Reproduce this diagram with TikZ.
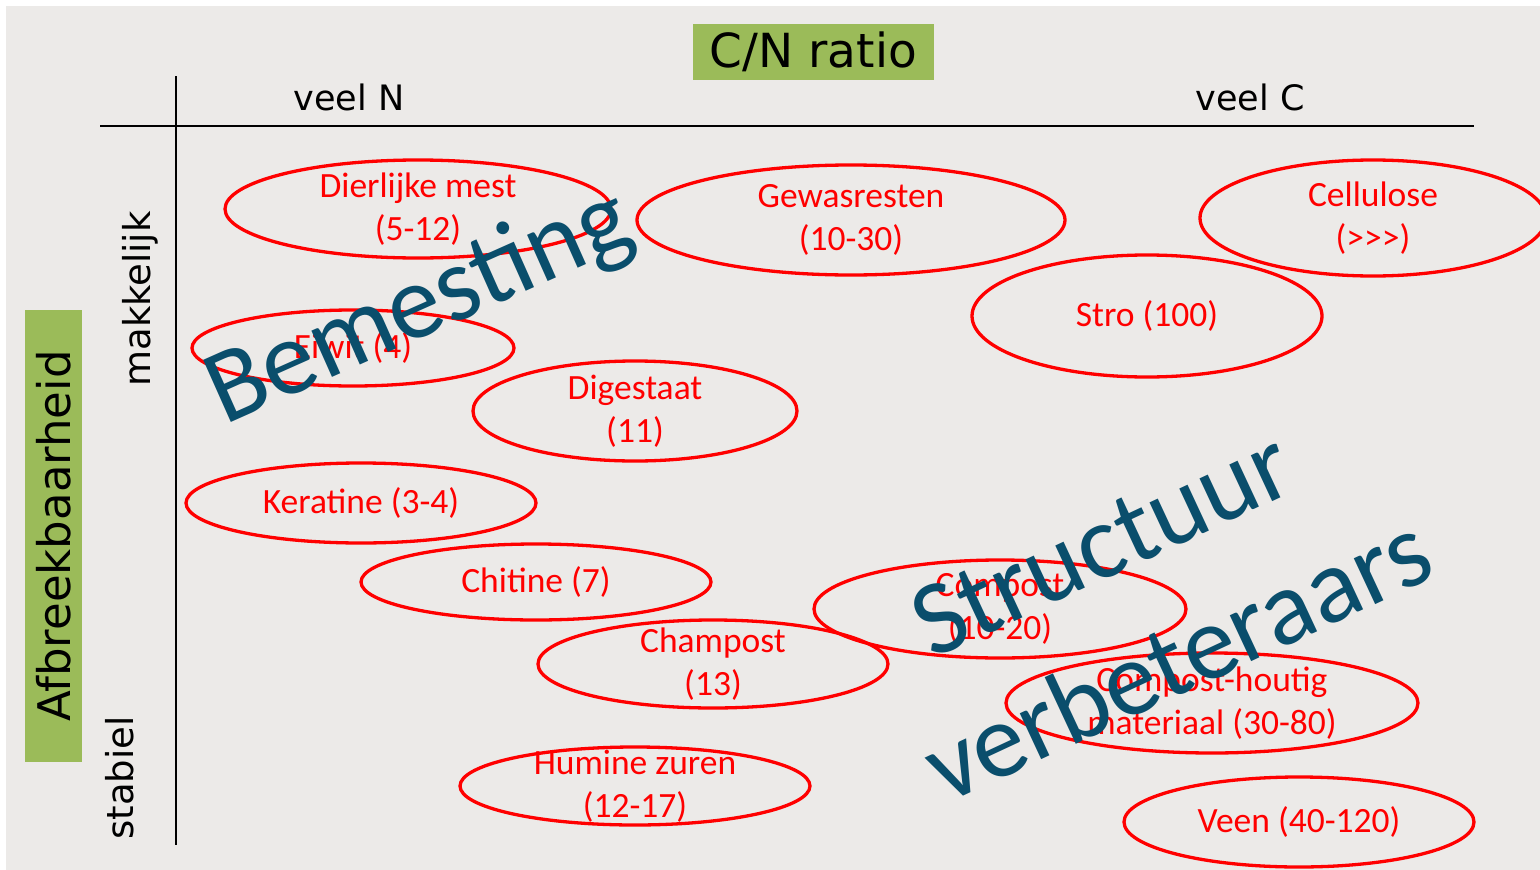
\documentclass[tikz,border=0pt]{standalone}
\usepackage{fontspec}
\setmainfont{Carlito}
\newfontfamily\verdana{DejaVu Sans}
\definecolor{achtergrond}{RGB}{236,234,232}
\definecolor{groen}{RGB}{155,187,89}
\definecolor{rood}{RGB}{255,0,0}
\definecolor{blauw}{RGB}{10,78,108}
\tikzset{
  stof/.style={text=rood, align=center, inner sep=0pt, font=\fontsize{35.5}{43.5}\selectfont},
  ring/.style={draw=rood, line width=3.3pt},
  as/.style={line width=2.8pt},
  aslabel/.style={font=\verdana\fontsize{35}{40}\selectfont},
  zijlabel/.style={rotate=90, font=\verdana\fontsize{37}{40}\selectfont},
  kader/.style={fill=groen, inner sep=0pt},
  groot/.style={text=blauw, inner sep=0pt, anchor=base west, font=\fontsize{106}{120}\selectfont}
}

\begin{document}
\begin{tikzpicture}[x=1pt,y=-1pt]
\useasboundingbox (0,0) rectangle (1540,870);
\fill[achtergrond] (6,6) rectangle (1540,870);
% assen
\coordinate (xbegin) at (100,126);
\coordinate (xeind) at (1474,126);
\coordinate (ybegin) at (176,76);
\coordinate (yeind) at (176,845);
\draw[as] (xbegin) -- (xeind);
\draw[as] (ybegin) -- (yeind);
% titels
\node[kader, minimum width=241pt, minimum height=56pt, font=\verdana\fontsize{47}{50}\selectfont] (cn) at (813.5,52) {C/N ratio};
\node[kader, minimum width=452pt, minimum height=57pt, rotate=90, font=\verdana\fontsize{45}{50}\selectfont] (afbreek) at (53.5,536) {Afbreekbaarheid};
\node[aslabel] (veelN) at (349,97) {veel N};
\node[aslabel] (veelC) at (1250,97) {veel C};
\node[zijlabel] (makkelijk) at (140,299) {makkelijk};
\node[zijlabel] (stabiel) at (120,778) {stabiel};
% stoffen: naam/x/y/rx/ry/tekst
\foreach \n/\x/\y/\rx/\ry/\t in {
  mest/418/209/193/49/{Dierlijke mest\\(5-12)},
  gewas/851/220/214/55/{Gewasresten\\(10-30)},
  cellulose/1373/218/173/58/{Cellulose\\(>\kern0pt>\kern0pt>)},
  stro/1147/316/175/61/{Stro (100)},
  eiwit/353/348/161/38/{Eiwit (4)},
  digestaat/635/411/162/50/{Digestaat\\(11)},
  keratine/361/503/175/40/{Keratine (3-4)},
  chitine/536/582/175/38/{Chitine (7)},
  champost/713/664/175/44/{Champost\\(13)},
  compost/1000/609/186/49/{Compost\\(10-20)},
  houtig/1212/703/206/50/{Compost-houtig\\materiaal (30-80)},
  humine/635/786/175/39/{Humine zuren\\(12-17)},
  veen/1299/822/175/45/{Veen (40-120)}} {
  \node[stof] (\n) at (\x,\y) {\t};
  \draw[ring] (\n.center) ellipse [x radius=\rx, y radius=\ry];
}
% groepen
\node[groot, rotate=24] (bemesting) at (224,426) {Bemesting};
\node[groot, rotate=25] (structuur) at (932,660) {Structuur};
\node[groot, rotate=25] (verbeteraars) at (945,805) {verbeteraars};
\end{tikzpicture}
\end{document}
